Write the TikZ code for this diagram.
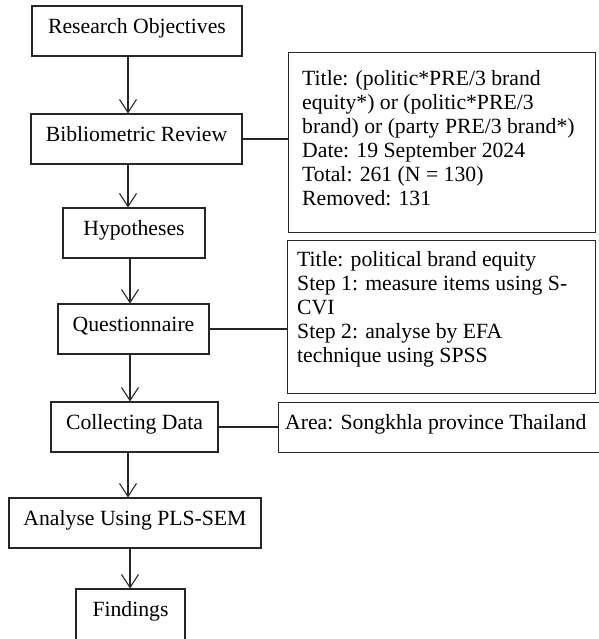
\documentclass[tikz,border=0pt]{standalone}
\usepackage{fontspec}
\setmainfont{Liberation Serif}
\usetikzlibrary{arrows.meta}
\begin{document}
\begin{tikzpicture}[x=1pt,y=-1pt,
  every node/.style={font=\fontsize{21.7}{24}\selectfont},
  mainbox/.style={draw=black!85, line width=1.1pt, inner xsep=0pt, inner ysep=0pt, text height=27.5pt, text depth=22.5pt},
  sidebox/.style={draw=black!85, line width=1.1pt, inner sep=0pt, anchor=north west},
  sidetext/.style={inner sep=0pt, anchor=north west, align=left},
  arr/.style={draw=black!85, line width=1.1pt, -{Straight Barb[length=13pt,width=17pt,line width=1.1pt]}},
  link/.style={draw=black!85, line width=1.1pt}]
\useasboundingbox (0,0) rectangle (598,639);

% main column
\node[mainbox, minimum width=210pt] (ro)  at (137,31)   {Research Objectives};
\node[mainbox, minimum width=211pt] (bib) at (136.5,139) {Bibliometric Review};
\node[mainbox, minimum width=142pt] (hyp) at (134,233)  {Hypotheses};
\node[mainbox, minimum width=151pt] (que) at (133.5,329) {Questionnaire};
\node[mainbox, minimum width=167pt] (col) at (134.5,427) {Collecting Data};
\node[mainbox, minimum width=252pt] (ana) at (135,523)  {Analyse Using PLS-SEM};
\node[mainbox, minimum width=109pt, text depth=28.5pt] (fin) at (130.5,617) {Findings};

% side boxes
\node[sidebox, minimum width=307pt, minimum height=180pt] (t1) at (288,52) {};
\node[sidetext] (t1txt) at (302,70.5) {Title: (politic*PRE/3 brand\\equity*) or (politic*PRE/3\\brand) or (party PRE/3 brand*)\\Date: 19 September 2024\\Total: 261 (N = 130)\\Removed: 131};

\node[sidebox, minimum width=308pt, minimum height=153pt] (t2) at (287,240) {};
\node[sidetext] (t2txt) at (297,251) {Title: political brand equity\\Step 1: measure items using S-\\CVI\\Step 2: analyse by EFA\\technique using SPSS};

\node[sidebox, minimum width=330pt, minimum height=50pt] (area) at (278,402) {};
\node[inner sep=0pt, anchor=base west] (areatxt) at (285,429) {Area: Songkhla province Thailand};

% arrows
\draw[arr] ([xshift=-9pt]ro.south) -- ([xshift=-9pt]ro.south |- bib.north);
\draw[arr] ([xshift=-8.5pt]bib.south) -- ([xshift=-8.5pt]bib.south |- hyp.north);
\draw[arr] ([xshift=-4pt]hyp.south) -- ([xshift=-4pt]hyp.south |- que.north);
\draw[arr] ([xshift=-3.5pt]que.south) -- ([xshift=-3.5pt]que.south |- col.north);
\draw[arr] ([xshift=-6.5pt]col.south) -- ([xshift=-6.5pt]col.south |- ana.north);
\draw[arr] ([xshift=-5pt]ana.south) -- ([xshift=-5pt]ana.south |- fin.north);

% links
\draw[link] (bib.east) -- (bib.east -| t1.west);
\draw[link] (que.east) -- (que.east -| t2.west);
\draw[link] (col.east) -- (col.east -| area.west);
\end{tikzpicture}
\end{document}
